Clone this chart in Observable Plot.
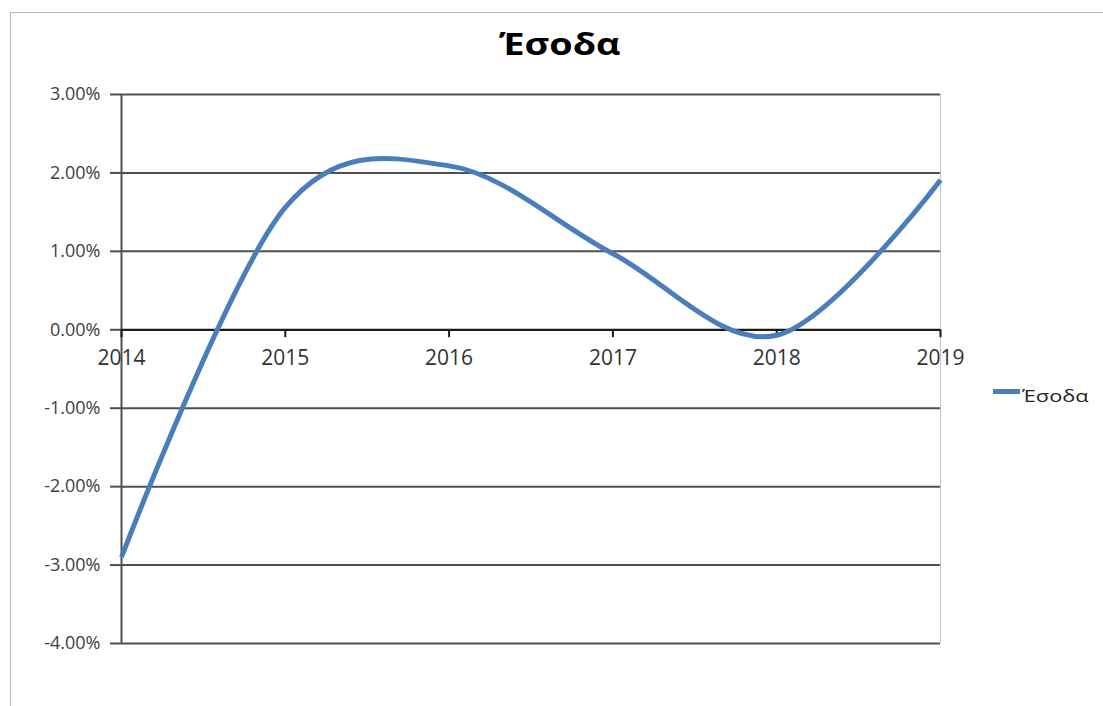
<!DOCTYPE html>
<html>
<head>
<meta charset="utf-8">
<script src="https://cdn.jsdelivr.net/npm/d3@7"></script>
<script src="https://cdn.jsdelivr.net/npm/@observablehq/plot@0.6"></script>
<style>
  html, body { margin: 0; padding: 0; background: #fff; }
  #wrap { position: relative; width: 1103px; height: 706px; overflow: hidden; font-family: "Open Sans", sans-serif; }
  #frame { position: absolute; left: 10px; top: 12px; right: -2px; bottom: -2px; border-top: 1.5px solid #b8b8b8; border-left: 1.5px solid #b8b8b8; }
  #chart { position: absolute; left: 0; top: 0; }
  #title { position: absolute; left: 0; width: 1120px; top: 22px; text-align: center; font-size: 31px; font-weight: 700; color: #000; }
  #title span { display: inline-block; transform: scaleX(1.22); transform-origin: center; }
  #legend { position: absolute; left: 993px; top: 384px; display: flex; align-items: center; font-size: 17px; color: #222; }
  #legend .swatch { width: 27px; height: 5px; background: #4a7ebb; margin-right: 2px; margin-bottom: 8px; }
  #legend-label { display: inline-block; transform: scaleX(1.28); transform-origin: left center; }
</style>
</head>
<body>
<div id="wrap">
  <div id="frame"></div>
  <div id="chart"></div>
  <div id="title"><span id="title-text"></span></div>
  <div id="legend"><span class="swatch"></span><span id="legend-label"></span></div>
</div>
<script>
// Annual revenue change
const title = "Έσοδα";
const seriesName = "Έσοδα";
const years = [2014, 2015, 2016, 2017, 2018, 2019];
const esoda = [-0.029, 0.0156, 0.0209, 0.0097, -0.0007, 0.0191];
const yTicks = [-0.04, -0.03, -0.02, -0.01, 0, 0.01, 0.02, 0.03];

const data = years.map((year, i) => ({year, value: esoda[i]}));
const pct = d3.format(".2%");
const fmt = d => pct(d).replace("\u2212", "-");

document.getElementById("title-text").textContent = title;
document.getElementById("legend-label").textContent = seriesName;

const chart = Plot.plot({
  width: 1103,
  height: 706,
  marginLeft: 121,
  marginRight: 163,
  marginTop: 94,
  marginBottom: 63,
  style: {fontFamily: "Open Sans, sans-serif", fontSize: "18px", color: "#333", background: "transparent"},
  x: {domain: [2014, 2019], axis: null},
  y: {domain: [-0.04, 0.03], axis: null},
  marks: [
    // horizontal gridlines
    Plot.ruleY(yTicks.filter(d => d !== 0), {stroke: "#505050", strokeWidth: 2}),
    // right edge of plot area
    Plot.ruleX([2019], {stroke: "#c8c8c8", strokeWidth: 1.2}),
    // vertical value axis
    Plot.ruleX([2014], {stroke: "#505050", strokeWidth: 2}),
    Plot.axisY({
      ticks: yTicks, tickFormat: fmt, tickSize: 11, tickPadding: 10, label: null,
      stroke: "#505050", strokeWidth: 2, fill: "#404040", fontSize: 18,
      style: {letterSpacing: "2.6px"}
    }),
    // category axis crossing at zero
    Plot.ruleY([0], {stroke: "#1a1a1a", strokeWidth: 2.2}),
    Plot.ruleX(years, {x: d => d, y1: 0, y2: -0.001, stroke: "#1a1a1a", strokeWidth: 2}),
    Plot.text(years, {x: d => d, y: 0, text: d => String(d), dy: 28, fill: "#333", fontSize: 21}),
    // smoothed series line
    Plot.line(data, {
      x: "year", y: "value",
      curve: d3.curveCatmullRom.alpha(0),
      stroke: "#4a7ebb", strokeWidth: 5, strokeLinecap: "butt", strokeLinejoin: "round"
    })
  ]
});
document.getElementById("chart").appendChild(chart);
</script>
</body>
</html>
